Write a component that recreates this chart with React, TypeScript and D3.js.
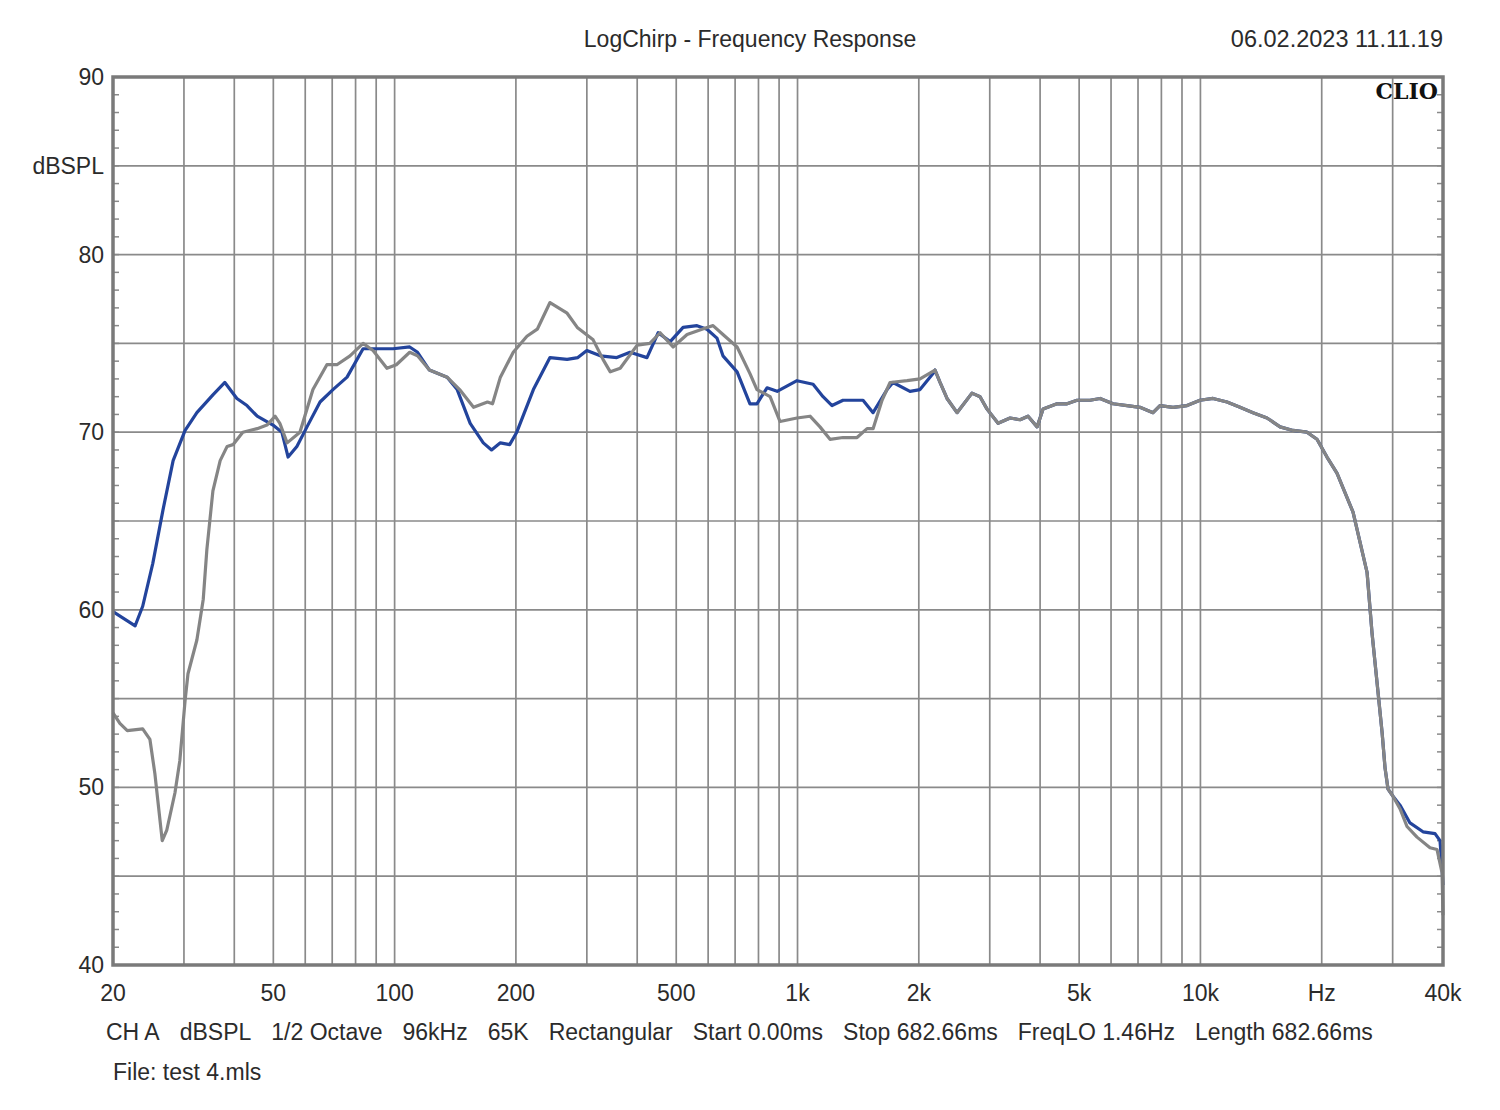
import { useMemo } from "react";
import * as d3 from "d3";

const width = 1500;
const height = 1110;
const margin = { top: 77, right: 57, bottom: 145, left: 113 };

// measured curves (Hz, dBSPL)
const blueFreq = [
  20, 22.7, 23.7, 25.1, 26.6, 28.2, 30.2, 32.3, 35.4, 37.9, 40.6, 43.0, 45.6,
  49.9, 52.5, 54.4, 57.2, 60.6, 65.3, 70.3, 76.2, 83.5, 88.4, 99.1, 109, 114,
  122, 135, 143, 154, 166, 174, 183, 193, 201, 221, 243, 268, 285, 300, 324,
  356, 384, 423, 451, 483, 520, 563, 596, 631, 653, 708, 762, 793, 840, 890,
  997, 1093, 1157, 1218, 1297, 1454, 1540, 1668, 1726, 1902, 2014, 2169, 2194,
  2258, 2350, 2488, 2710, 2838, 2954, 3146, 3370, 3568, 3734, 3932, 4069, 4406,
  4666, 4940, 5322, 5635, 6068, 6573, 7080, 7627, 7937, 8550, 9264, 9976,
  10746, 11642, 12540, 13504, 14632, 15764, 16980, 18386, 19468, 20612, 21820,
  23920, 25920, 26660, 27440, 28240, 28720, 29220, 30060, 31280, 33120, 35680,
  38220, 39320, 39780, 40000,
];
const blueDb = [
  59.9, 59.1, 60.2, 62.6, 65.6, 68.4, 70.1, 71.1, 72.1, 72.8, 71.9, 71.5, 70.9,
  70.4, 70.0, 68.6, 69.2, 70.3, 71.7, 72.4, 73.1, 74.7, 74.7, 74.7, 74.8, 74.5,
  73.5, 73.1, 72.4, 70.5, 69.4, 69.0, 69.4, 69.3, 70.0, 72.4, 74.2, 74.1, 74.2,
  74.6, 74.3, 74.2, 74.5, 74.2, 75.6, 75.1, 75.9, 76.0, 75.8, 75.3, 74.3, 73.4,
  71.6, 71.6, 72.5, 72.3, 72.9, 72.7, 72.0, 71.5, 71.8, 71.8, 71.1, 72.4, 72.8,
  72.3, 72.4, 73.3, 73.5, 72.8, 71.9, 71.1, 72.2, 72.0, 71.3, 70.5, 70.8, 70.7,
  70.9, 70.3, 71.3, 71.6, 71.6, 71.8, 71.8, 71.9, 71.6, 71.5, 71.4, 71.1, 71.5,
  71.4, 71.5, 71.8, 71.9, 71.7, 71.4, 71.1, 70.8, 70.3, 70.1, 70.0, 69.6, 68.6,
  67.7, 65.5, 62.1, 58.7, 55.9, 53.1, 51.1, 49.9, 49.5, 49.0, 48.0, 47.5, 47.4,
  47.0, 45.5, 44.5,
];

const grayFreq = [
  20, 20.8, 21.7, 23.7, 24.7, 25.4, 26.5, 27.2, 28.5, 29.3, 30.2, 30.7, 32.3,
  33.5, 34.2, 35.4, 36.9, 38.4, 39.7, 42.0, 45.6, 48.2, 50.5, 51.9, 54.1, 58.2,
  62.7, 67.9, 71.9, 77.5, 83.5, 88.4, 95.7, 101, 109, 114, 122, 135, 145, 157,
  170, 175, 183, 197, 213, 226, 243, 268, 284, 311, 329, 343, 363, 400, 430,
  456, 491, 532, 596, 617, 653, 708, 762, 793, 855, 905, 997, 1074, 1137, 1204,
  1297, 1405, 1488, 1540, 1621, 1697, 1870, 2014, 2194, 2258, 2350, 2488, 2710,
  2838, 2954, 3146, 3370, 3568, 3734, 3932, 4069, 4406, 4666, 4940, 5322, 5635,
  6068, 6573, 7080, 7627, 7937, 8550, 9264, 9976, 10746, 11642, 12540, 13504,
  14632, 15764, 16980, 18386, 19468, 20612, 21820, 23920, 25920, 26660, 27440,
  28240, 28720, 29220, 30060, 31280, 32560, 34480, 37140, 38660, 39780, 40000,
];
const grayDb = [
  54.2, 53.6, 53.2, 53.3, 52.7, 50.8, 47.0, 47.6, 49.7, 51.5, 54.9, 56.4, 58.3,
  60.6, 63.4, 66.7, 68.4, 69.2, 69.3, 70.0, 70.2, 70.4, 70.9, 70.5, 69.4, 70.0,
  72.4, 73.8, 73.8, 74.3, 75.0, 74.6, 73.6, 73.8, 74.5, 74.3, 73.5, 73.1, 72.4,
  71.4, 71.7, 71.6, 73.1, 74.5, 75.4, 75.8, 77.3, 76.7, 75.9, 75.2, 74.1, 73.4,
  73.6, 74.9, 75.0, 75.6, 74.8, 75.5, 75.9, 76.0, 75.5, 74.8, 73.3, 72.4, 72.0,
  70.6, 70.8, 70.9, 70.3, 69.6, 69.7, 69.7, 70.2, 70.2, 71.8, 72.8, 72.9, 73.0,
  73.5, 72.8, 71.9, 71.1, 72.2, 72.0, 71.3, 70.5, 70.8, 70.7, 70.9, 70.3, 71.3,
  71.6, 71.6, 71.8, 71.8, 71.9, 71.6, 71.5, 71.4, 71.1, 71.5, 71.4, 71.5, 71.8,
  71.9, 71.7, 71.4, 71.1, 70.8, 70.3, 70.1, 70.0, 69.6, 68.6, 67.7, 65.5, 62.1,
  58.7, 55.9, 53.1, 51.1, 49.9, 49.5, 48.8, 47.8, 47.2, 46.6, 46.5, 45.2, 42.8,
];

const xTickValues = [20, 50, 100, 200, 500, 1000, 2000, 5000, 10000, 20000, 40000];
const xTickLabels = ["20", "50", "100", "200", "500", "1k", "2k", "5k", "10k", "Hz", "40k"];
const yTickValues = [40, 50, 60, 70, 80, 90];

const footerItems = [
  "CH A",
  "dBSPL",
  "1/2 Octave",
  "96kHz",
  "65K",
  "Rectangular",
  "Start 0.00ms",
  "Stop 682.66ms",
  "FreqLO 1.46Hz",
  "Length 682.66ms",
];

const font = "'Liberation Sans', Arial, sans-serif";
const textColor = "#2b2b2b";
const gridColor = "#8a8a8a";

const App = () => {
  const { xScale, yScale, bluePath, grayPath } = useMemo(() => {
    const xScale = d3
      .scaleLog()
      .domain([20, 40000])
      .range([margin.left, width - margin.right]);
    const yScale = d3
      .scaleLinear()
      .domain([40, 90])
      .range([height - margin.bottom, margin.top]);

    const line = d3
      .line<[number, number]>()
      .x((d) => xScale(d[0]))
      .y((d) => yScale(d[1]));

    const bluePath = line(blueFreq.map((f, i) => [f, blueDb[i]]));
    const grayPath = line(grayFreq.map((f, i) => [f, grayDb[i]]));
    return { xScale, yScale, bluePath, grayPath };
  }, []);

  const [x0, x1] = xScale.range();
  const [y0, y1] = yScale.range();
  const xGrid = xScale.ticks();
  const yGrid = d3.range(45, 90, 5);
  const yMinor = d3.range(41, 90, 1);

  return (
    <svg
      width={width}
      height={height}
      style={{ position: "absolute", left: 0, top: 0, background: "#fff" }}
    >
      <rect x={0} y={0} width={width} height={height} fill="#fff" />

      {/* grid */}
      {xGrid.map((t) => (
        <line
          key={"xg" + t}
          x1={xScale(t)}
          x2={xScale(t)}
          y1={y1}
          y2={y0}
          stroke={gridColor}
          strokeWidth={1.7}
        />
      ))}
      {yGrid.map((t) => (
        <line
          key={"yg" + t}
          x1={x0}
          x2={x1}
          y1={yScale(t)}
          y2={yScale(t)}
          stroke={gridColor}
          strokeWidth={1.7}
        />
      ))}
      {yMinor.map((t) => (
        <g key={"ym" + t}>
          <line x1={x0} x2={x0 + 6} y1={yScale(t)} y2={yScale(t)} stroke={gridColor} strokeWidth={1.5} />
          <line x1={x1 - 6} x2={x1} y1={yScale(t)} y2={yScale(t)} stroke={gridColor} strokeWidth={1.5} />
        </g>
      ))}

      {/* curves */}
      <path d={bluePath ?? undefined} fill="none" stroke="#23449c" strokeWidth={3.2} strokeLinejoin="round" />
      <path d={grayPath ?? undefined} fill="none" stroke="#858585" strokeWidth={3.2} strokeLinejoin="round" />

      {/* frame */}
      <rect x={x0} y={y1} width={x1 - x0} height={y0 - y1} fill="none" stroke="#7a7a7a" strokeWidth={3.5} />

      <text x={1438} y={99} textAnchor="end" fontFamily="'DejaVu Serif', serif" fontWeight="bold" fontSize={22} fill="#111">
        CLIO
      </text>

      {/* y labels */}
      {yTickValues.map((t) => (
        <text key={"yl" + t} x={104} y={yScale(t) + 8} textAnchor="end" fontFamily={font} fontSize={23} fill={textColor}>
          {t}
        </text>
      ))}
      <text x={104} y={yScale(85) + 8} textAnchor="end" fontFamily={font} fontSize={23} fill={textColor}>
        dBSPL
      </text>

      {/* x labels */}
      {xTickValues.map((t, i) => (
        <text key={"xl" + t} x={xScale(t)} y={1001} textAnchor="middle" fontFamily={font} fontSize={23} fill={textColor}>
          {xTickLabels[i]}
        </text>
      ))}

      {/* title */}
      <text x={750} y={47} textAnchor="middle" fontFamily={font} fontSize={23} fill={textColor}>
        LogChirp - Frequency Response
      </text>
      <text x={1443} y={47} textAnchor="end" fontFamily={font} fontSize={23.5} fill={textColor}>
        06.02.2023 11.11.19
      </text>

      {/* footer */}
      <text x={106} y={1040} fontFamily={font} fontSize={23} fill={textColor}>
        {footerItems.map((s, i) => (
          <tspan key={s} dx={i ? 20 : 0}>
            {s}
          </tspan>
        ))}
      </text>
      <text x={113} y={1080} fontFamily={font} fontSize={23} fill={textColor}>
        File: test 4.mls
      </text>
    </svg>
  );
};

export default App;
